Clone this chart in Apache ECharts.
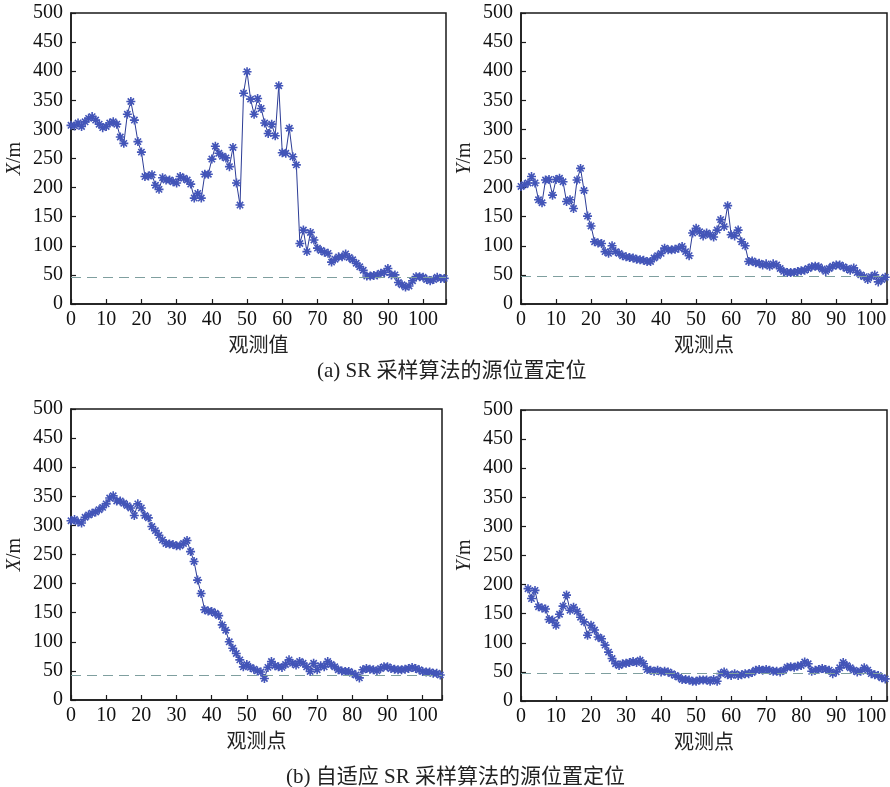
<!DOCTYPE html>
<html>
<head>
<meta charset="utf-8">
<script src="https://cdn.jsdelivr.net/npm/echarts@6/dist/echarts.min.js"></script>
<style>
html,body{margin:0;padding:0;background:#fff;}
#chart{width:890px;height:787px;}
</style>
</head>
<body>
<div id="chart"></div>
<script>
// ---- Data ----
// (a) SR sampling, X coordinate, observation points 0..106
var srX = [307,306,311,305,313,319,322,316,309,303,305,311,313,309,287,276,326,348,316,279,
  261,219,220,222,204,197,217,213,213,210,208,219,216,213,206,182,190,182,223,223,
  249,271,259,254,251,236,269,208,170,362,399,352,326,353,336,311,293,309,289,375,
  260,259,302,253,239,104,127,90,123,110,96,92,89,87,72,77,81,81,86,80,
  76,70,64,58,48,48,49,50,53,54,61,50,50,37,33,29,31,40,47,47,
  46,42,40,42,46,44,44];
// (a) SR sampling, Y coordinate, observation points 0..104
var srY = [202,205,208,219,208,179,174,213,214,187,214,216,210,176,179,164,213,233,195,151,
  134,107,105,104,90,87,100,90,87,83,81,80,79,77,76,75,73,73,79,83,
  87,96,93,93,94,96,99,90,83,122,130,124,117,122,119,115,127,145,133,169,
  119,117,127,107,100,73,74,71,70,67,69,65,69,67,61,56,54,54,54,56,
  57,58,61,64,65,64,60,56,61,65,67,67,64,61,58,62,54,50,47,42,
  47,50,38,42,46];
// (b) adaptive SR sampling, X coordinate, observation points 0..105
var adX = [308,310,306,304,314,318,321,323,327,331,337,347,351,342,342,338,334,330,317,337,
  330,317,313,298,291,283,275,269,268,267,265,265,269,274,255,238,206,183,155,153,
  152,149,145,129,120,100,89,80,69,57,61,56,53,50,48,37,56,66,59,57,
  56,61,69,63,60,66,63,57,49,63,52,59,57,66,61,57,52,50,49,49,
  46,43,38,52,54,53,52,50,54,57,57,54,53,52,52,53,54,56,54,52,
  49,48,48,46,46,43];
// (b) adaptive SR sampling, Y coordinate, observation points 2..104
var adYStart = 2;
var adY = [193,176,190,162,160,158,140,139,130,149,163,182,156,161,154,144,136,113,130,122,
  110,107,96,84,73,64,61,64,65,66,68,66,70,64,54,53,51,53,50,51,
  50,47,44,41,37,37,36,34,34,36,36,36,34,37,34,47,50,45,44,47,
  44,45,47,47,49,53,54,53,54,53,51,51,50,53,58,59,58,60,61,67,
  64,51,53,54,56,54,53,47,50,57,66,61,57,53,50,51,57,53,47,45,
  44,40,38];
// reference (dashed) levels for each panel
var refLevels = [46, 47, 43, 48];
// axis ranges
var xMax = [106.5, 104.5, 105.5, 104.5];
var yTicks = [0, 50, 100, 150, 200, 250, 300, 350, 400, 450, 500];
var xTicks = [0, 10, 20, 30, 40, 50, 60, 70, 80, 90, 100];
var xNames = ['观测值', '观测点', '观测点', '观测点'];
var yNames = ['X', 'Y', 'X', 'Y'];
var captions = ['(a) SR 采样算法的源位置定位', '(b) 自适应 SR 采样算法的源位置定位'];

function toPairs(arr, start) {
  return arr.map(function (v, i) { return [i + start, v]; });
}
var seriesData = [toPairs(srX, 0), toPairs(srY, 0), toPairs(adX, 0), toPairs(adY, adYStart)];

var serif = '"Liberation Serif","Times New Roman","Noto Sans CJK SC",serif';
var grids = [
  {left: 71, top: 13, width: 375, height: 291},
  {left: 521, top: 13, width: 369, height: 291},
  {left: 71, top: 409, width: 371, height: 291},
  {left: 521, top: 410, width: 369, height: 291}
];
var axisColor = '#1a1a1a';
var star = 'path://M5 0L5 10M0 5L10 5M1.5 1.5L8.5 8.5M8.5 1.5L1.5 8.5';

var option = {
  animation: false,
  backgroundColor: '#fff',
  grid: grids.map(function (g) {
    return Object.assign({show: true, borderColor: axisColor, borderWidth: 1.5, backgroundColor: 'transparent', containLabel: false}, g);
  }),
  xAxis: grids.map(function (g, k) {
    return {
      type: 'value', gridIndex: k, min: 0, max: xMax[k], interval: 10,
      name: xNames[k], nameLocation: 'middle', nameGap: 33,
      nameTextStyle: {fontFamily: serif, fontSize: 20, color: '#222'},
      axisLine: {show: true, onZero: false, lineStyle: {color: axisColor, width: 1.5}},
      axisTick: {show: true, inside: true, length: 5, lineStyle: {color: axisColor, width: 1.2}},
      axisLabel: {fontFamily: serif, fontSize: 20, color: '#111', margin: 6,
        formatter: function (v) { return xTicks.indexOf(v) >= 0 ? String(v) : ''; }},
      splitLine: {show: false}
    };
  }),
  yAxis: grids.map(function (g, k) {
    return {
      type: 'value', gridIndex: k, min: 0, max: 500, interval: 50,
      name: '{i|' + yNames[k] + '}/m', nameLocation: 'middle', nameGap: 46,
      nameTextStyle: {fontFamily: serif, fontSize: 20, color: '#222',
        rich: {i: {fontFamily: serif, fontSize: 20, fontStyle: 'italic', color: '#222'}}},
      axisLine: {show: true, lineStyle: {color: axisColor, width: 1.5}},
      axisTick: {show: true, inside: true, length: 5, lineStyle: {color: axisColor, width: 1.2}},
      axisLabel: {fontFamily: serif, fontSize: 20, color: '#111', margin: 8,
        formatter: function (v) { return yTicks.indexOf(v) >= 0 ? String(v) : ''; }},
      splitLine: {show: false}
    };
  }),
  series: seriesData.map(function (d, k) {
    return {
      type: 'line', xAxisIndex: k, yAxisIndex: k, data: d,
      symbol: star, symbolSize: 9, showAllSymbol: true,
      lineStyle: {color: '#2c3c96', width: 1},
      itemStyle: {color: '#4355b8', borderColor: '#4355b8', borderWidth: 1.6},
      markLine: {
        silent: true, symbol: ['none', 'none'], label: {show: false},
        lineStyle: {color: '#7f9f9f', type: [10, 6], width: 1.2},
        data: [{yAxis: refLevels[k]}]
      },
      z: 3
    };
  }),
  graphic: [
    {type: 'text', left: 317, top: 361, style: {text: captions[0], font: '21px ' + serif, fill: '#222'}},
    {type: 'text', left: 286, top: 767, style: {text: captions[1], font: '21px ' + serif, fill: '#222'}}
  ]
};

var chart = echarts.init(document.getElementById('chart'), null, {renderer: 'canvas'});
chart.setOption(option);
</script>
</body>
</html>
